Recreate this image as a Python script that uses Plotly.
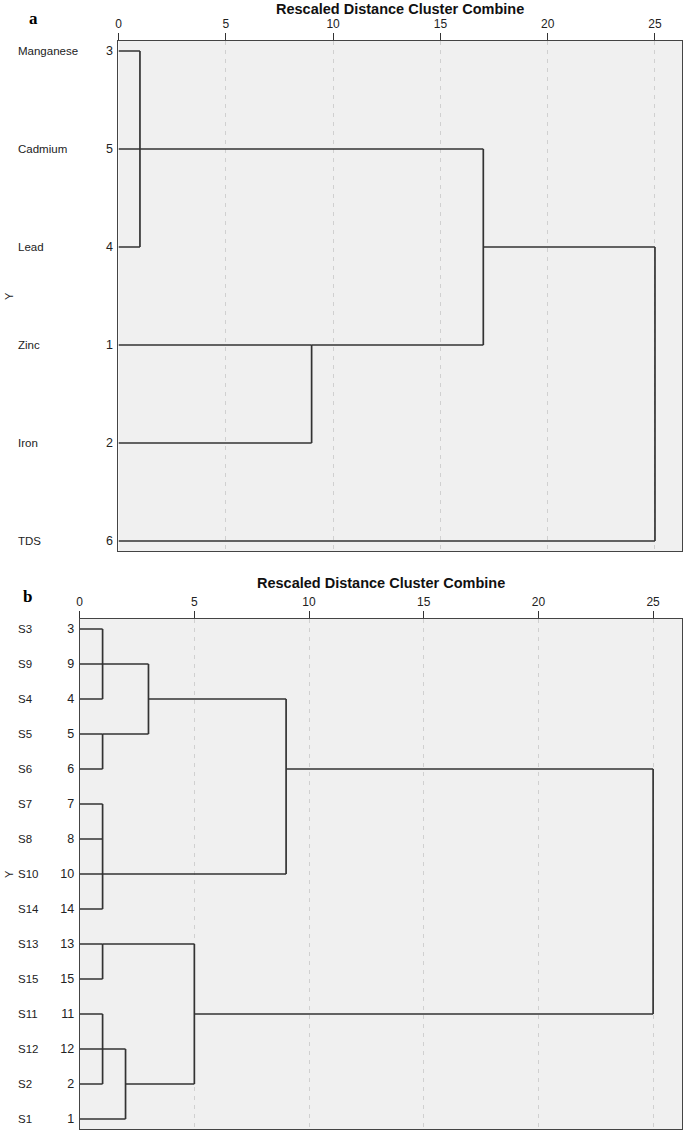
import plotly.graph_objects as go

W, H = 685, 1132

# ---------------- data ----------------
a_names = ["Manganese", "Cadmium", "Lead", "Zinc", "Iron", "TDS"]
a_ids = [3, 5, 4, 1, 2, 6]
# merges: children (cluster indices; leaves 0..n-1, merges numbered after), distance, node row
a_merge_children = [[0, 1, 2], [3, 4], [6, 7], [8, 5]]
a_merge_dist = [1.0, 9.0, 17.0, 25.0]
a_merge_row = [1, 3, 2, 3.5]

b_names = ["S3", "S9", "S4", "S5", "S6", "S7", "S8", "S10", "S14",
           "S13", "S15", "S11", "S12", "S2", "S1"]
b_ids = [3, 9, 4, 5, 6, 7, 8, 10, 14, 13, 15, 11, 12, 2, 1]
b_merge_children = [[0, 1, 2], [3, 4], [15, 16], [5, 6, 7, 8], [17, 18],
                    [9, 10], [11, 12, 13], [21, 14], [20, 22], [19, 23]]
b_merge_dist = [1.0, 1.0, 3.0, 1.0, 9.0, 1.0, 1.0, 2.0, 5.0, 25.0]
b_merge_row = [1, 3, 2, 7, 4, 9, 12, 13, 11, 7.5]

x_ticks = [0, 5, 10, 15, 20, 25]
title_text = "Rescaled Distance Cluster Combine"


def segments(n, children, dists, rows):
    xs, ys = [], []
    px = [0.0] * n
    py = list(range(n))
    for ch, d, r in zip(children, dists, rows):
        for c in ch:
            xs += [px[c], d, None]
            ys += [py[c], py[c], None]
        ymin = min(py[c] for c in ch)
        ymax = max(py[c] for c in ch)
        xs += [d, d, None]
        ys += [ymin, ymax, None]
        px.append(d)
        py.append(r)
    return xs, ys


def fx(p):
    return p / W


def fy(p):
    return 1 - p / H


# pixel geometry
A_LEFT, B_LEFT, RIGHT = 116, 77, 682
A_TOP, A_BOT = 41, 551
B_TOP, B_BOT = 619, 1129
A_ROW0, A_STEP = 51, 98
B_ROW0, B_STEP = 629, 35
XMAX = 26.26

fig = go.Figure()

xa, ya = segments(len(a_names), a_merge_children, a_merge_dist, a_merge_row)
xb, yb = segments(len(b_names), b_merge_children, b_merge_dist, b_merge_row)

line_style = dict(color="#333333", width=1.7)
fig.add_trace(go.Scatter(x=xa, y=ya, mode="lines", line=line_style,
                         xaxis="x", yaxis="y", hoverinfo="skip", showlegend=False))
fig.add_trace(go.Scatter(x=xb, y=yb, mode="lines", line=line_style,
                         xaxis="x2", yaxis="y2", hoverinfo="skip", showlegend=False))

xcommon = dict(side="top", range=[0, XMAX], tickvals=x_ticks,
               ticks="outside", ticklen=7, tickcolor="#333", tickwidth=1,
               tickfont=dict(family="Liberation Sans, Arial", size=12, color="#222"),
               showgrid=True, gridcolor="#d0d0d0", griddash="4px,5px", gridwidth=1,
               showline=True, linecolor="#444", linewidth=1, mirror=True,
               zeroline=False, fixedrange=True)
ycommon = dict(ticks="", showgrid=False, zeroline=False,
               tickfont=dict(family="Liberation Sans, Arial", size=12.5, color="#222"),
               showline=True, linecolor="#444", linewidth=1, mirror=True,
               ticklabelstandoff=2, fixedrange=True)

a_rng = [len(a_names) - 1 + (A_BOT - (A_ROW0 + A_STEP * (len(a_names) - 1))) / A_STEP,
         -(A_ROW0 - A_TOP) / A_STEP]
b_rng = [len(b_names) - 1 + (B_BOT - (B_ROW0 + B_STEP * (len(b_names) - 1))) / B_STEP,
         -(B_ROW0 - B_TOP) / B_STEP]

fig.update_layout(
    width=W, height=H, autosize=False,
    margin=dict(l=0, r=0, t=0, b=0),
    paper_bgcolor="white", plot_bgcolor="#f0f0f0",
    xaxis=dict(**xcommon, domain=[fx(A_LEFT), fx(RIGHT)], anchor="y"),
    yaxis=dict(**ycommon, domain=[fy(A_BOT), fy(A_TOP)], anchor="x",
               range=a_rng, tickvals=list(range(len(a_names))),
               ticktext=[str(v) for v in a_ids]),
    xaxis2=dict(**xcommon, domain=[fx(B_LEFT), fx(RIGHT)], anchor="y2"),
    yaxis2=dict(**ycommon, domain=[fy(B_BOT), fy(B_TOP)], anchor="x2",
                range=b_rng, tickvals=list(range(len(b_names))),
                ticktext=[str(v) for v in b_ids]),
)

ann = []
lab_font = dict(family="Liberation Sans, Arial", size=11.5, color="#222")
for i, nm in enumerate(a_names):
    ann.append(dict(x=fx(13), y=fy(A_ROW0 + A_STEP * i), xref="paper", yref="paper",
                    text=nm, showarrow=False, xanchor="left", yanchor="middle", font=lab_font))
for i, nm in enumerate(b_names):
    ann.append(dict(x=fx(13), y=fy(B_ROW0 + B_STEP * i), xref="paper", yref="paper",
                    text=nm, showarrow=False, xanchor="left", yanchor="middle", font=lab_font))

# Y axis letters
for yc in [(A_TOP + A_BOT) / 2, B_ROW0 + B_STEP * 7]:
    ann.append(dict(x=fx(6), y=fy(yc), xref="paper", yref="paper", text="Y",
                    textangle=-90, showarrow=False, xanchor="center", yanchor="middle",
                    font=dict(family="Liberation Sans, Arial", size=11, color="#222")))

# titles
title_font = dict(family="Liberation Sans, Arial", size=14.5, color="#111")
ann.append(dict(x=fx((A_LEFT + RIGHT) / 2), y=fy(9), xref="paper", yref="paper",
                text="<b>" + title_text + "</b>", showarrow=False,
                xanchor="center", yanchor="middle", font=title_font))
ann.append(dict(x=fx((B_LEFT + RIGHT) / 2), y=fy(583), xref="paper", yref="paper",
                text="<b>" + title_text + "</b>", showarrow=False,
                xanchor="center", yanchor="middle", font=title_font))

# panel letters
pl_font = dict(family="Liberation Serif, Times New Roman, serif", size=17, color="#000")
ann.append(dict(x=fx(31), y=fy(18), xref="paper", yref="paper", text="<b>a</b>",
                showarrow=False, xanchor="center", yanchor="middle", font=pl_font))
ann.append(dict(x=fx(25), y=fy(596), xref="paper", yref="paper", text="<b>b</b>",
                showarrow=False, xanchor="center", yanchor="middle", font=pl_font))

fig.update_layout(annotations=ann)

fig.write_html("out.html",
               config={"displayModeBar": False},
               post_script="document.body.style.margin='0px';"
                           "document.body.style.overflow='hidden';")
